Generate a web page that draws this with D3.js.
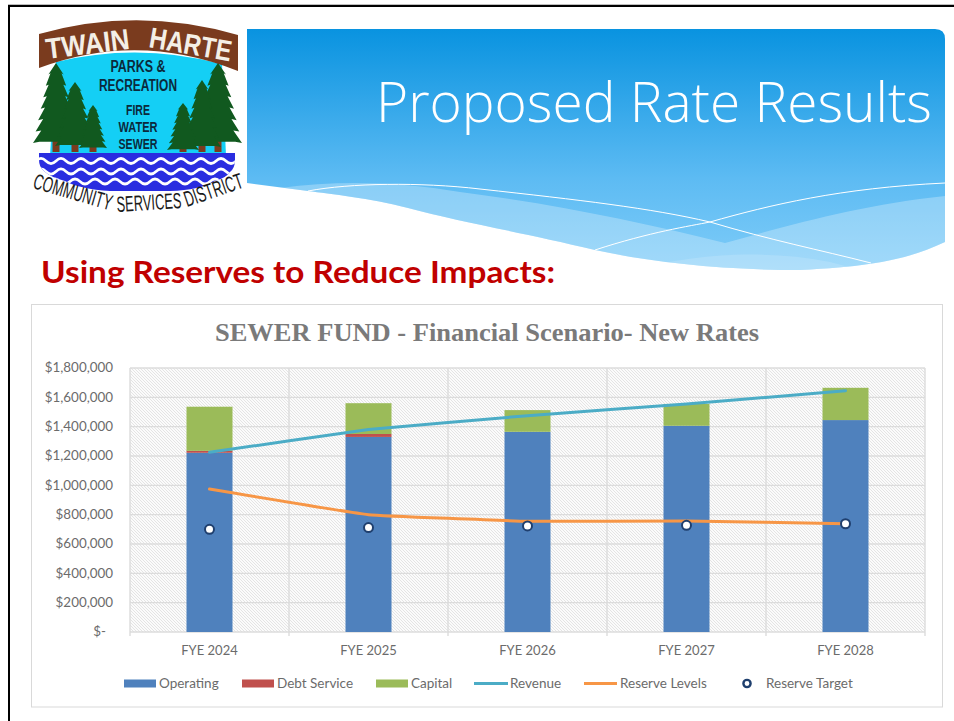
<!DOCTYPE html>
<html>
<head>
<meta charset="utf-8">
<script src="https://cdn.jsdelivr.net/npm/d3@7"></script>
<style>html,body{margin:0;padding:0;background:#fff}svg{display:block}</style>
</head>
<body>
<div id="chart"></div>
<script>
const categories = ["FYE 2024","FYE 2025","FYE 2026","FYE 2027","FYE 2028"];
const operating = [1222000,1330000,1365000,1406000,1445000];
const debtService = [13000,20000,0,0,0];
const capital = [301000,210000,148000,149000,220000];
const revenue = [1225000,1380000,1475000,1555000,1645000];
const reserveLevels = [975000,800000,755000,757000,738000];
const reserveTarget = [700000,712000,723000,727000,738000];
const yTicks = [0,200000,400000,600000,800000,1000000,1200000,1400000,1600000,1800000];
const barSeries = ["Operating","Debt Service","Capital"];
const barColors = ["#4f81bd","#c0504d","#9bbb59"];

const W = 954, H = 721;
const svg = d3.select("#chart").append("svg").attr("width",W).attr("height",H);
const defs = svg.append("defs");

// ---------- slide frame
svg.append("rect").attr("width",W).attr("height",H).attr("fill","#fff");
svg.append("rect").attr("x",8).attr("y",4).attr("width",W-8).attr("height",1).attr("fill","#bdbdbd");
svg.append("rect").attr("x",8).attr("y",5).attr("width",W-8).attr("height",2).attr("fill","#000");
svg.append("rect").attr("x",8).attr("y",5).attr("width",2).attr("height",H-5).attr("fill","#000");

// ---------- banner
const grad = defs.append("linearGradient").attr("id","bannerGrad").attr("x1",0).attr("x2",0).attr("y1",0).attr("y2",1);
grad.append("stop").attr("offset","0").attr("stop-color","#0993e0");
grad.append("stop").attr("offset","0.62").attr("stop-color","#5dbbf3");
grad.append("stop").attr("offset","1").attr("stop-color","#7fccf8");
const bannerPath = "M247,29 L935,29 Q945,29 945,39 L945,242 C910,258 880,266 800,270 C720,270 650,262 595,250 C520,232 460,222 408,208 C370,198 330,194 308,191 L247,183 Z";
defs.append("clipPath").attr("id","bannerClip").append("path").attr("d",bannerPath);
svg.append("path").attr("d",bannerPath).attr("fill","url(#bannerGrad)");
const bg = svg.append("g").attr("clip-path","url(#bannerClip)");
bg.append("path").attr("d","M280,188 C340,180 400,182 460,192 C560,205 640,222 725,243 C790,225 860,205 945,196 L945,290 L247,290 Z")
  .attr("fill","#fff").attr("opacity",0.27);
bg.append("path").attr("d","M640,268 C690,256 760,248 830,262 L860,270 L640,280 Z").attr("fill","#fff").attr("opacity",0.15);
bg.append("path").attr("d","M308,191 C350,183 420,182 480,189 C580,200 650,208 710,222 C770,240 820,250 871,263")
  .attr("fill","none").attr("stroke","#fff").attr("stroke-width",1);
bg.append("path").attr("d","M595,250 C650,232 690,226 710,222 C770,205 840,188 945,183")
  .attr("fill","none").attr("stroke","#fff").attr("stroke-width",1);
svg.append("text").attr("x",376).attr("y",122)
  .attr("font-family","'Open Sans',sans-serif").attr("font-weight",300).attr("font-size",55)
  .attr("fill","#fff").attr("textLength",556).attr("lengthAdjust","spacingAndGlyphs").text("Proposed Rate Results");

// ---------- logo
const logo = svg.append("g");
const logoFont = "'Liberation Sans',sans-serif";
logo.append("path").attr("d","M56,62 Q138,42 222,64 L226,156 L50,156 Z").attr("fill","#14cff5");
logo.append("path").attr("d","M39,34 Q138,6 238,35 L238,71 Q138,31 39,68 Z").attr("fill","#7a3b1e");

// a word laid along a short straight run of the logo's arcs
function tiltedWord(px, py, angle, len, size, weight, fill, str){
  logo.append("text").attr("transform",`translate(${px},${py}) rotate(${angle})`)
    .attr("font-family",logoFont).attr("font-weight",weight).attr("font-size",size).attr("fill",fill)
    .attr("textLength",len).attr("lengthAdjust","spacingAndGlyphs").text(str);
}
tiltedWord(47,59,-7,84,29,700,"#f4efe6","TWAIN");
tiltedWord(148,47,10,83,29,700,"#f4efe6","HARTE");

[["PARKS &",72,16,55],["RECREATION",91,16,78],["FIRE",115,15,24],["WATER",132,15,39],["SEWER",149,15,39]].forEach(d=>{
  logo.append("text").attr("x",138-d[3]/2).attr("y",d[1])
    .attr("font-family",logoFont).attr("font-weight",700).attr("font-size",d[2]).attr("fill","#0b2a3c")
    .attr("textLength",d[3]).attr("lengthAdjust","spacingAndGlyphs").text(d[0]);
});
function tree(cx, top, bottom, hw){
  logo.append("rect").attr("x",cx-3.5).attr("y",bottom-4).attr("width",7).attr("height",156-bottom).attr("fill","#7a3b1e");
  const tiers=7, h=bottom-top; let right=[], left=[];
  for(let i=1;i<=tiers;i++){
    const yy=top+h*i/tiers, w=hw*(0.22+0.78*i/tiers), inner=w*0.72;
    right.push(`L${cx+w},${yy} L${cx+inner},${yy-h/tiers*0.1}`);
    left.unshift(`L${cx-inner},${yy-h/tiers*0.1} L${cx-w},${yy}`);
  }
  logo.append("path").attr("d",`M${cx},${top} `+right.join(" ")+" "+left.join(" ")+" Z").attr("fill","#11591f");
}
tree(56,63,143,23); tree(75,82,146,20); tree(93,105,148,14);
tree(218,63,143,24); tree(202,80,147,19); tree(183,103,150,16);
const waterPath = "M39,153 L235,153 L235,160 Q235,168 230,172 Q226,178 215,181 Q200,190 170,191 L110,191 Q80,189 65,181 Q50,177 44,171 Q39,167 39,160 Z";
defs.append("clipPath").attr("id","waterClip").append("path").attr("d",waterPath);
logo.append("path").attr("d",waterPath).attr("fill","#2a2de0");
const waves = logo.append("g").attr("clip-path","url(#waterClip)");
[[36,238,161],[36,238,171.5],[50,226,181.5]].forEach(r=>{
  let d=`M${r[0]},${r[2]}`;
  for(let xx=r[0];xx<r[1];xx+=20){ d+=` q5,-5 10,0 q5,5 10,0`; }
  waves.append("path").attr("d",d).attr("fill","none").attr("stroke","#fff").attr("stroke-width",2.6);
});
tiltedWord(32,188,16,81,22,400,"#1a1a1a","COMMUNITY");
tiltedWord(117,212,-3.5,65,22,400,"#1a1a1a","SERVICES");
tiltedWord(187,207,-19,61,22,400,"#1a1a1a","DISTRICT");

// ---------- heading
svg.append("text").attr("x",41).attr("y",283)
  .attr("font-family","Lato,'Open Sans',sans-serif").attr("font-weight",700).attr("font-size",31)
  .attr("fill","#c00000").attr("textLength",514).attr("lengthAdjust","spacingAndGlyphs")
  .text("Using Reserves to Reduce Impacts:");

// ---------- chart panel
svg.append("rect").attr("x",31.5).attr("y",304.5).attr("width",911).attr("height",402.5)
  .attr("fill","#fff").attr("stroke","#d9d9d9").attr("stroke-width",1);
svg.append("text").attr("x",215).attr("y",341)
  .attr("font-family","'Liberation Serif',serif").attr("font-weight",700).attr("font-size",25)
  .attr("fill","#7a7a7a").attr("textLength",544).attr("lengthAdjust","spacingAndGlyphs")
  .text("SEWER FUND - Financial Scenario- New Rates");

const margin = {left:130,right:925,top:368,bottom:632};
const x = d3.scaleBand().domain(categories).range([margin.left,margin.right]);
const y = d3.scaleLinear().domain([0,1800000]).range([margin.bottom,margin.top]);

const hatch = defs.append("pattern").attr("id","hatch").attr("patternUnits","userSpaceOnUse")
  .attr("width",3).attr("height",3);
hatch.append("rect").attr("width",3).attr("height",3).attr("fill","#fbfbfb");
hatch.append("path").attr("d","M-1,-1 L4,4 M2,-1 L4,1 M-1,2 L1,4").attr("stroke","#dedede").attr("stroke-width",0.8);
svg.append("rect").attr("x",margin.left).attr("y",margin.top).attr("width",margin.right-margin.left)
  .attr("height",margin.bottom-margin.top).attr("fill","url(#hatch)");

const labelFont = "Lato,'Open Sans',sans-serif";
const labelColor = "#6b6b6b";

// y axis + horizontal grid
const yAxis = d3.axisLeft(y).tickValues(yTicks)
  .tickSize(0).tickPadding(17)
  .tickFormat(d => d===0 ? "$-" : "$"+d3.format(",")(d));
const yg = svg.append("g").attr("transform",`translate(${margin.left},0)`).call(yAxis);
yg.select(".domain").remove();
yg.selectAll("text").attr("font-family",labelFont).attr("font-size",13.4).attr("fill",labelColor).attr("dy","0.28em");
yg.selectAll(".tick").filter(d=>d===0).select("text").attr("dx",-7);
svg.append("g").selectAll("line").data(yTicks).join("line")
  .attr("x1",margin.left).attr("x2",margin.right)
  .attr("y1",d=>y(d)).attr("y2",d=>y(d))
  .attr("stroke","#dcdcdc").attr("stroke-width",1.4);

// vertical grid at category boundaries
const bounds = categories.map(c=>x(c)).concat([margin.right]);
svg.append("g").selectAll("line").data(bounds).join("line")
  .attr("x1",d=>d).attr("x2",d=>d)
  .attr("y1",margin.top).attr("y2",margin.bottom+4)
  .attr("stroke","#dcdcdc").attr("stroke-width",1.4);

// x axis labels
const xAxis = d3.axisBottom(x).tickSize(0).tickPadding(14);
const xg = svg.append("g").attr("transform",`translate(0,${margin.bottom})`).call(xAxis);
xg.select(".domain").remove();
xg.selectAll("text").attr("font-family",labelFont).attr("font-size",13).attr("fill",labelColor);

// stacked bars
const rows = categories.map((c,i)=>({cat:c,"Operating":operating[i],"Debt Service":debtService[i],"Capital":capital[i]}));
const stacked = d3.stack().keys(barSeries)(rows);
const barW = 46;
svg.append("g").selectAll("g").data(stacked).join("g")
  .attr("fill",(d,i)=>barColors[i])
  .selectAll("rect").data(d=>d).join("rect")
  .attr("x",d=>x(d.data.cat)+x.bandwidth()/2-barW/2)
  .attr("width",barW)
  .attr("y",d=>y(d[1]))
  .attr("height",d=>y(d[0])-y(d[1]));

// lines
const cx = i => x(categories[i])+x.bandwidth()/2;
const lineGen = d3.line().x((d,i)=>cx(i)).y(d=>y(d)).curve(d3.curveCardinal.tension(0.75));
svg.append("path").datum(revenue).attr("d",lineGen).attr("fill","none")
  .attr("stroke","#4bacc6").attr("stroke-width",3).attr("stroke-linecap","round");
svg.append("path").datum(reserveLevels).attr("d",lineGen).attr("fill","none")
  .attr("stroke","#f79646").attr("stroke-width",3).attr("stroke-linecap","round");

// target markers
svg.append("g").selectAll("circle").data(reserveTarget).join("circle")
  .attr("cx",(d,i)=>cx(i)).attr("cy",d=>y(d)).attr("r",4.5)
  .attr("fill","#fff").attr("stroke","#1f3f6e").attr("stroke-width",2);

// legend
const legendY = 683.5;
const legendText = (tx,s)=>svg.append("text").attr("x",tx).attr("y",legendY+4.6)
  .attr("font-family",labelFont).attr("font-size",13.5).attr("fill",labelColor).text(s);
[[124,159],[242,277],[376,411]].forEach((p,i)=>{
  svg.append("rect").attr("x",p[0]).attr("y",legendY-4).attr("width",32).attr("height",8).attr("fill",barColors[i]);
  legendText(p[1],barSeries[i]);
});
[[474,508,510,"#4bacc6","Revenue"],[584,617,620,"#f79646","Reserve Levels"]].forEach(p=>{
  svg.append("line").attr("x1",p[0]).attr("x2",p[1]).attr("y1",legendY).attr("y2",legendY)
    .attr("stroke",p[3]).attr("stroke-width",3);
  legendText(p[2],p[4]);
});
svg.append("circle").attr("cx",747).attr("cy",legendY).attr("r",3.6)
  .attr("fill","#fff").attr("stroke","#1f3f6e").attr("stroke-width",2.4);
legendText(766,"Reserve Target");
</script>
</body>
</html>
